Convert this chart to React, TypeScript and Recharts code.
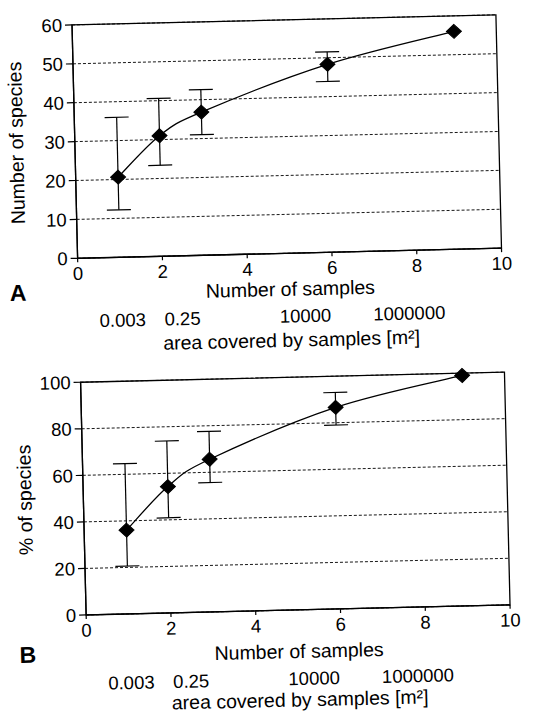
import React from 'react';
import {
  ComposedChart,
  Line,
  XAxis,
  YAxis,
  CartesianGrid,
  ErrorBar,
  ReferenceArea,
} from 'recharts';

// ---- data ----
const samples = [1, 2, 3, 6, 9];

const speciesCount = [20.6, 31, 36.8, 48.3, 56];
const speciesCountUpper = [36, 40.6, 42.6, 51.5, null];
const speciesCountLower = [12.2, 23.4, 31, 43.9, null];

const speciesPct = [36, 54.3, 65.6, 86.6, 99];
const speciesPctUpper = [64.6, 73.9, 77.6, 93, null];
const speciesPctLower = [20.6, 40.9, 55.6, 79, null];

const sampleTicks = [0, 2, 4, 6, 8, 10];
const countTicks = [0, 10, 20, 30, 40, 50, 60];
const pctTicks = [0, 20, 40, 60, 80, 100];

const areaTickPositions = [1.03, 2.44, 5.34, 7.79];
const areaTickLabels = ['0.003', '0.25', '10000', '1000000'];

function buildRows(vals: number[], upper: (number | null)[], lower: (number | null)[]) {
  return samples.map((x, i) => ({
    x,
    y: vals[i],
    err:
      upper[i] == null || lower[i] == null
        ? null
        : [vals[i] - (lower[i] as number), (upper[i] as number) - vals[i]],
  }));
}

// Catmull-Rom style smoothing curve (d3 CurveFactory interface)
const smoothCurve = (context: any) => {
  let pts: [number, number][] = [];
  return {
    areaStart() {},
    areaEnd() {},
    lineStart() {
      pts = [];
    },
    lineEnd() {
      if (!pts.length) return;
      context.moveTo(pts[0][0], pts[0][1]);
      const t = 1 / 6;
      for (let i = 0; i < pts.length - 1; i++) {
        const p0 = pts[i - 1] || pts[i];
        const p1 = pts[i];
        const p2 = pts[i + 1];
        const p3 = pts[i + 2] || p2;
        context.bezierCurveTo(
          p1[0] + (p2[0] - p0[0]) * t,
          p1[1] + (p2[1] - p0[1]) * t,
          p2[0] - (p3[0] - p1[0]) * t,
          p2[1] - (p3[1] - p1[1]) * t,
          p2[0],
          p2[1]
        );
      }
    },
    point(x: number, y: number) {
      pts.push([+x, +y]);
    },
  };
};

const DiamondDot = (props: any) => {
  const { cx, cy } = props;
  if (cx == null || cy == null) return null;
  const w = 7.5;
  const h = 7;
  return (
    <polygon
      points={`${cx},${cy - h} ${cx + w},${cy} ${cx},${cy + h} ${cx - w},${cy}`}
      fill="#000"
      stroke="#000"
      strokeWidth={1}
    />
  );
};

type PanelProps = {
  top: number;
  height: number;
  rows: any[];
  yMax: number;
  yTicks: number[];
  yLabel: string;
  marginTop: number;
  marginBottom: number;
  ax1TickMargin: number;
  ax1Height: number;
  ax2TickMargin: number;
  ax2Height: number;
};

const ink = '#000';
const tickFont = 18.5;
const labelFont = 19.5;

const Panel = (p: PanelProps) => (
  <div style={{ position: 'absolute', left: 0, top: p.top, width: 533, height: p.height }}>
    <ComposedChart
      width={533}
      height={p.height}
      data={p.rows}
      margin={{ top: p.marginTop, right: 29, bottom: p.marginBottom, left: 0 }}
    >
      <CartesianGrid
        vertical={false}
        stroke={ink}
        strokeDasharray="3 2"
        strokeWidth={0.9}
      />
      <XAxis
        xAxisId={0}
        dataKey="x"
        type="number"
        domain={[0, 10]}
        ticks={sampleTicks}
        interval={0}
        tickSize={4}
        tickMargin={p.ax1TickMargin}
        height={p.ax1Height}
        axisLine={{ stroke: ink, strokeWidth: 1.3 }}
        tickLine={{ stroke: ink, strokeWidth: 1.2 }}
        tick={{ fill: ink, fontSize: tickFont }}
        label={{
          value: 'Number of samples',
          position: 'insideBottom',
          offset: 0,
          style: { fill: ink, fontSize: labelFont },
        }}
      />
      <XAxis
        xAxisId="area"
        dataKey="x"
        type="number"
        domain={[0, 10]}
        ticks={areaTickPositions}
        interval={0}
        tickFormatter={(_v: any, i: number) => areaTickLabels[i]}
        tickSize={0}
        tickMargin={p.ax2TickMargin}
        height={p.ax2Height}
        axisLine={false}
        tickLine={false}
        tick={{ fill: ink, fontSize: tickFont }}
        label={{
          value: 'area covered by samples [m²]',
          position: 'insideBottom',
          offset: 0,
          style: { fill: ink, fontSize: labelFont },
        }}
      />
      <YAxis
        type="number"
        domain={[0, p.yMax]}
        ticks={p.yTicks}
        interval={0}
        width={80}
        tickSize={7}
        tickMargin={3}
        axisLine={{ stroke: ink, strokeWidth: 1.3 }}
        tickLine={{ stroke: ink, strokeWidth: 1.2 }}
        tick={{ fill: ink, fontSize: tickFont }}
        label={{
          value: p.yLabel,
          angle: -90,
          position: 'insideLeft',
          offset: 21.3,
          style: { fill: ink, fontSize: labelFont, textAnchor: 'middle' },
        }}
      />
      <ReferenceArea
        x1={0}
        x2={10}
        y1={0}
        y2={p.yMax}
        fill="none"
        fillOpacity={0}
        stroke={ink}
        strokeWidth={1.3}
        ifOverflow="visible"
      />
      <Line
        type={smoothCurve as any}
        dataKey="y"
        stroke={ink}
        strokeWidth={1.3}
        dot={<DiamondDot />}
        activeDot={false}
        isAnimationActive={false}
      >
        <ErrorBar dataKey="err" width={12} stroke={ink} strokeWidth={1.2} direction="y" />
      </Line>
    </ComposedChart>
  </div>
);

const letterStyle: React.CSSProperties = {
  position: 'absolute',
  fontSize: 23,
  fontWeight: 'bold',
  lineHeight: 1,
  color: ink,
};

export default function App() {
  const rowsA = buildRows(speciesCount, speciesCountUpper, speciesCountLower);
  const rowsB = buildRows(speciesPct, speciesPctUpper, speciesPctLower);
  return (
    <div
      style={{
        position: 'absolute',
        left: 0,
        top: 0,
        width: 533,
        height: 713,
        background: '#fff',
        fontFamily: '"Liberation Sans", Arial, Helvetica, sans-serif',
        transform: 'rotate(-1.37deg)',
        transformOrigin: '266px 356px',
        overflow: 'visible',
      }}
    >
      <Panel
        top={0}
        height={357}
        rows={rowsA}
        yMax={60}
        yTicks={countTicks}
        yLabel="Number of species"
        marginTop={20.4}
        marginBottom={9.6}
        ax1TickMargin={4.6}
        ax1Height={42.6}
        ax2TickMargin={13.6}
        ax2Height={51}
      />
      <Panel
        top={357}
        height={356}
        rows={rowsB}
        yMax={100}
        yTicks={pctTicks}
        yLabel="% of species"
        marginTop={20.8}
        marginBottom={5.8}
        ax1TickMargin={4.6}
        ax1Height={48.1}
        ax2TickMargin={13.9}
        ax2Height={48.5}
      />
      <div style={{ ...letterStyle, left: 11.3, top: 275.8 }}>A</div>
      <div style={{ ...letterStyle, left: 12.6, top: 637.9 }}>B</div>
    </div>
  );
}
